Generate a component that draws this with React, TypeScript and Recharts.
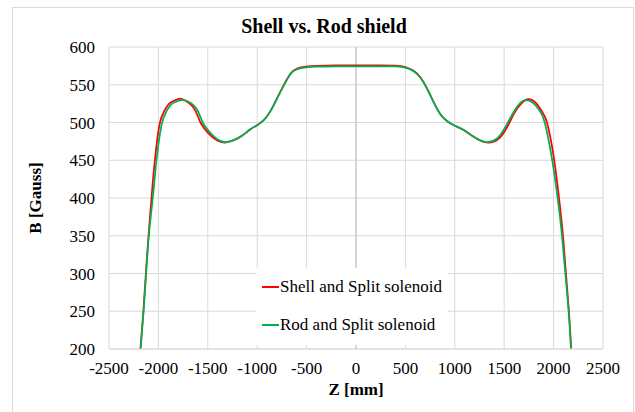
import React from 'react';
import { LineChart, Line, XAxis, YAxis, CartesianGrid, Legend, ReferenceLine } from 'recharts';

// Z position in mm, B field in Gauss
const shellZ = [
  -2182, -2152, -2127, -2100, -2070, -2036, -1989, -1945, -1890, -1820, -1760, -1640, -1574, -1473, -1400, -1325, -1250,
  -1170, -1068, -1000, -934, -866, -799, -731, -664, -596, -505, -400, -200, 0, 200, 400, 500, 583, 651, 719, 786,
  854, 921, 996, 1090, 1191, 1320, 1440, 1530, 1610, 1680, 1745, 1820, 1885, 1933, 1998, 2055, 2095, 2125, 2155, 2178,
];
const shellB = [
  200, 250, 300, 350, 400, 450, 497, 514, 525, 530, 531, 519, 500, 483, 476, 473.5, 476,
  481, 491, 496.5, 503, 515, 532, 549.5, 564.5, 571.5, 574, 575, 575.5, 575.5, 575.5, 575.3, 573.5, 568.5, 560, 545, 527,
  511, 502, 496, 490, 481, 473.5, 478, 494, 514, 526, 531, 526, 514, 500, 457, 400, 350, 300, 250, 200,
];

const rodZ = [
  -2180, -2150, -2124, -2097, -2057, -2019, -1969, -1921, -1870, -1800, -1730, -1615, -1551, -1450, -1380, -1315, -1250,
  -1170, -1068, -1000, -934, -866, -799, -731, -664, -596, -505, -400, -200, 0, 200, 400, 500, 583, 651, 719, 786,
  854, 921, 996, 1090, 1191, 1310, 1428, 1512, 1596, 1663, 1720, 1800, 1866, 1910, 1977, 2041, 2085, 2119, 2152, 2176,
];
const rodB = [
  200, 250, 300, 350, 400, 450, 496, 514, 524, 528.5, 529.5, 518.5, 500, 483, 476, 474, 476,
  481, 491, 496.5, 503, 515, 532, 549, 564, 570.5, 573, 574, 574.5, 574.5, 574.5, 574.3, 572.7, 568, 559.5, 545, 527,
  511, 502, 496, 490, 481, 474.3, 478.8, 494, 514, 526, 529.5, 525, 514, 500, 457, 400, 350, 300, 250, 200,
];

const xTicks = [-2500, -2000, -1500, -1000, -500, 0, 500, 1000, 1500, 2000, 2500];
const yTicks = [200, 250, 300, 350, 400, 450, 500, 550, 600];

const seriesNames = ['Shell and Split solenoid', 'Rod and Split solenoid'];
const seriesColors = ['#FF0000', '#00B050'];

const shellData = shellZ.map((z, i) => ({ z, b: shellB[i] }));
const rodData = rodZ.map((z, i) => ({ z, b: rodB[i] }));

const font = "'Liberation Serif', 'Times New Roman', Times, serif";

const LegendBox = () => (
  <div style={{ background: '#fff', width: 192, height: 77, fontFamily: font, fontSize: 17, color: '#000' }}>
    {seriesNames.map((name, i) => (
      <div key={name} style={{ position: 'absolute', left: 6, top: 9 + i * 38, height: 20, display: 'flex', alignItems: 'center' }}>
        <span style={{ display: 'inline-block', width: 17, height: 2, background: seriesColors[i], marginRight: 1 }} />
        <span>{name}</span>
      </div>
    ))}
  </div>
);

export default function App() {
  return (
    <div style={{ position: 'absolute', left: 0, top: 0, width: 635, height: 412, background: '#fff', overflow: 'hidden', fontFamily: font }}>
      <div style={{ position: 'absolute', left: 12, top: 7, width: 620, height: 420, border: '1px solid #D9D9D9' }} />
      <div style={{ position: 'absolute', left: 0, width: 648, top: 15, textAlign: 'center', fontWeight: 'bold', fontSize: 20 }}>
        Shell vs. Rod shield
      </div>
      <div style={{ position: 'absolute', left: 109, width: 494, top: 380, textAlign: 'center', fontWeight: 'bold', fontSize: 17 }}>
        Z [mm]
      </div>
      <div
        style={{
          position: 'absolute', left: 36, top: 198, transform: 'translate(-50%, -50%) rotate(-90deg)',
          whiteSpace: 'nowrap', fontWeight: 'bold', fontSize: 17,
        }}
      >
        B [Gauss]
      </div>
      <LineChart
        width={635} height={412} margin={{ top: 47, right: 32, bottom: 0, left: 0 }}
        style={{ position: 'absolute', left: 0, top: 0 }}
      >
        <CartesianGrid stroke="#D9D9D9" strokeWidth={1} />
        <XAxis
          dataKey="z" type="number" domain={[-2500, 2500]} ticks={xTicks} height={63}
          axisLine={{ stroke: '#D9D9D9' }} tickLine={false} tickSize={0} tickMargin={13}
          tick={{ fill: '#000', fontSize: 17, fontFamily: font }}
        />
        <YAxis
          dataKey="b" type="number" domain={[200, 600]} ticks={yTicks} width={109}
          axisLine={false} tickLine={false} tickSize={0} tickMargin={14}
          tick={{ fill: '#000', fontSize: 17, fontFamily: font }}
        />
        <ReferenceLine x={0} stroke="#BFBFBF" />
        <Line data={shellData} dataKey="b" name={seriesNames[0]} type="natural" stroke={seriesColors[0]} strokeWidth={1.75} dot={false} isAnimationActive={false} />
        <Line data={rodData} dataKey="b" name={seriesNames[1]} type="natural" stroke={seriesColors[1]} strokeWidth={1.75} dot={false} isAnimationActive={false} />
        <Legend layout="vertical" align="center" verticalAlign="middle" content={() => <LegendBox />} wrapperStyle={{ left: 256, top: 268, width: 192, height: 77 }} />
      </LineChart>
    </div>
  );
}
